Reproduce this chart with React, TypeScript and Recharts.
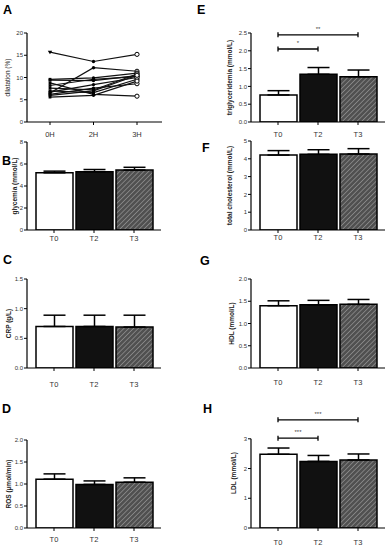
import React from 'react';
import { BarChart, Bar, Cell, XAxis, YAxis, ErrorBar, LineChart, Line, ReferenceLine } from 'recharts';

// panel A: flow-mediated dilatation per subject at 0H / 2H / 3H
const timePoints = ['0H', '2H', '3H'];
const dilatation = [
  [15.7, 13.6, 15.2],
  [6.5, 12.2, 11.4],
  [9.6, 9.9, 11.0],
  [9.4, 9.3, 10.4],
  [8.8, 6.2, 5.8],
  [8.2, 9.6, 10.2],
  [7.6, 7.2, 10.8],
  [7.0, 6.6, 9.6],
  [6.7, 8.4, 10.0],
  [6.2, 7.6, 8.6],
  [5.6, 6.0, 9.2],
  [6.0, 7.0, 10.5],
];

// panels B-H: mean and upper SEM at T0 / T2 / T3
const groups = ['T0', 'T2', 'T3'];
const glycemiaMean = [5.2, 5.3, 5.45];
const glycemiaErr = [0.15, 0.2, 0.25];
const crpMean = [0.7, 0.7, 0.69];
const crpErr = [0.19, 0.19, 0.2];
const rosMean = [1.11, 0.99, 1.04];
const rosErr = [0.12, 0.08, 0.1];
const trigMean = [0.76, 1.34, 1.27];
const trigErr = [0.12, 0.19, 0.19];
const cholMean = [4.21, 4.25, 4.27];
const cholErr = [0.25, 0.26, 0.3];
const hdlMean = [1.4, 1.42, 1.43];
const hdlErr = [0.11, 0.1, 0.11];
const ldlMean = [2.48, 2.24, 2.29];
const ldlErr = [0.21, 0.2, 0.2];

const trigBrackets = [
  { from: 'T0', to: 'T2', y: 2.05, label: '*' },
  { from: 'T0', to: 'T3', y: 2.45, label: '**' },
];
const ldlBrackets = [
  { from: 'T0', to: 'T2', y: 3.02, label: '***' },
  { from: 'T0', to: 'T3', y: 3.64, label: '***' },
];

const FONT = '"Liberation Sans", Arial, sans-serif';

const lineData = timePoints.map((t, i) => {
  const row: any = { time: t };
  dilatation.forEach((s, k) => { row['s' + k] = s[i]; });
  return row;
});

const makeDot = (series: number) => (p: any) => {
  const { cx, cy, index } = p;
  const key = `d-${series}-${index}`;
  if (cx == null || cy == null) return <g key={key} />;
  if (index === 0) {
    if (series === 0) {
      return <path key={key} d={`M${cx - 2.2},${cy - 1.5} L${cx + 2.2},${cy - 1.5} L${cx},${cy + 2.2} Z`} fill="#000" />;
    }
    return <rect key={key} x={cx - 1.4} y={cy - 1.4} width={2.8} height={2.8} fill="#000" />;
  }
  if (index === 1) return <circle key={key} cx={cx} cy={cy} r={1.7} fill="#000" />;
  return <circle key={key} cx={cx} cy={cy} r={2.1} fill="#fff" stroke="#000" strokeWidth={1} />;
};

const Bracket = (label: string) => (p: any) => {
  const { x1, y1, x2 } = p;
  if (x1 == null) return <g />;
  return (
    <g>
      <line x1={x1} y1={y1} x2={x2} y2={y1} stroke="#000" strokeWidth={1.3} />
      <line x1={x1} y1={y1 - 2.5} x2={x1} y2={y1 + 2.5} stroke="#000" strokeWidth={1.3} />
      <line x1={x2} y1={y1 - 2.5} x2={x2} y2={y1 + 2.5} stroke="#000" strokeWidth={1.3} />
      <text x={(x1 + x2) / 2} y={y1 - 4} textAnchor="middle" fontSize={6} fill="#444">{label}</text>
    </g>
  );
};

type PanelProps = {
  id: string;
  left: number;
  top: number;
  yAxisW: number;
  chartW: number;
  plotH: number;
  mean: number[];
  err: number[];
  domain: number[];
  ticks: number[];
  decimals: number;
  yLabel: string;
  labelX: number;
  tickMargin: number;
  brackets?: { from: string; to: string; y: number; label: string }[];
  axisTop?: number;
};

const fills = ['#ffffff', '#111111', 'hatch'];

function BarPanel(props: PanelProps) {
  const { id, left, top, yAxisW, chartW, plotH, mean, err, domain, ticks, decimals, yLabel, labelX, tickMargin, brackets, axisTop } = props;
  const data = groups.map((g, i) => ({ group: g, mean: mean[i], err: [0, err[i]] }));
  const mTop = 10;
  const xH = 22;
  const rightM = chartW - yAxisW - 134;
  return (
    <div style={{ position: 'absolute', left, top }}>
      <BarChart width={chartW} height={mTop + plotH + xH} data={data} margin={{ top: mTop, right: rightM, left: 0, bottom: 0 }}>
        <defs>
          <pattern id={`hatch-${id}`} patternUnits="userSpaceOnUse" width={3.4} height={3.4} patternTransform="rotate(45)">
            <rect width={3.4} height={3.4} fill="#505050" />
            <line x1={0} y1={0} x2={0} y2={3.4} stroke="#9a9a9a" strokeWidth={1.3} />
          </pattern>
        </defs>
        <XAxis
          dataKey="group"
          padding={{ left: 7, right: 7 }}
          height={xH}
          interval={0}
          tickSize={3}
          tickMargin={tickMargin}
          axisLine={{ stroke: '#000', strokeWidth: 1.2 }}
          tickLine={{ stroke: '#000', strokeWidth: 1 }}
          tick={{ fontSize: 7.5, fill: '#333' }}
        />
        <XAxis xAxisId="frame" type="number" domain={[0, 1]} hide />
        <YAxis
          width={yAxisW}
          domain={domain}
          ticks={ticks}
          interval={0}
          tickSize={3}
          tickMargin={1}
          axisLine={axisTop == null ? { stroke: '#000', strokeWidth: 1.2 } : false}
          tickLine={{ stroke: '#000', strokeWidth: 1 }}
          tick={{ fontSize: 6, fill: '#333' }}
          tickFormatter={(v: number) => v.toFixed(decimals)}
          allowDataOverflow
          label={{
            value: yLabel,
            angle: -90,
            position: 'insideLeft',
            offset: labelX,
            style: { textAnchor: 'middle', fontSize: 6.5, fontWeight: 700, fill: '#222' },
          }}
        />
        {axisTop != null && (
          <ReferenceLine
            xAxisId="frame"
            segment={[{ x: 0, y: 0 }, { x: 0, y: axisTop }]}
            stroke="#000"
            strokeWidth={1.2}
          />
        )}
        <Bar dataKey="mean" barSize={37} stroke="#000" strokeWidth={1.5} isAnimationActive={false}>
          {data.map((d, i) => (
            <Cell key={d.group} fill={fills[i] === 'hatch' ? `url(#hatch-${id})` : fills[i]} />
          ))}
          <ErrorBar dataKey="err" direction="y" width={11} stroke="#000" strokeWidth={1.5} />
        </Bar>
        {(brackets || []).map((b, i) => (
          <ReferenceLine
            key={i}
            segment={[{ x: b.from, y: b.y }, { x: b.to, y: b.y }]}
            shape={Bracket(b.label)}
          />
        ))}
      </BarChart>
    </div>
  );
}

const letters = [
  { t: 'A', x: 3, y: 14 },
  { t: 'B', x: 2, y: 165 },
  { t: 'C', x: 3, y: 264 },
  { t: 'D', x: 2, y: 413 },
  { t: 'E', x: 197, y: 14 },
  { t: 'F', x: 202, y: 152 },
  { t: 'G', x: 200, y: 265 },
  { t: 'H', x: 203, y: 413 },
];

export default function App() {
  return (
    <div style={{ position: 'absolute', left: 0, top: 0, width: 389, height: 550, background: '#fff', fontFamily: FONT, overflow: 'hidden' }}>
      <div style={{ position: 'absolute', left: 0, top: 23 }}>
        <LineChart width={170} height={121} data={lineData} margin={{ top: 10, right: 8, left: 0, bottom: 0 }}>
          <XAxis
            dataKey="time"
            padding={{ left: 23, right: 25 }}
            height={22}
            interval={0}
            tickSize={3}
            tickMargin={7}
            axisLine={{ stroke: '#000', strokeWidth: 1.2 }}
            tickLine={{ stroke: '#000' }}
            tick={{ fontSize: 7.5, fill: '#333' }}
          />
          <YAxis
            width={27}
            domain={[0, 20]}
            ticks={[0, 5, 10, 15, 20]}
            interval={0}
            tickSize={3}
            tickMargin={1}
            axisLine={{ stroke: '#000', strokeWidth: 1.2 }}
            tickLine={{ stroke: '#000' }}
            tick={{ fontSize: 6, fill: '#333' }}
            label={{
              value: 'dilatation (%)',
              angle: -90,
              position: 'insideLeft',
              offset: 8,
              style: { textAnchor: 'middle', fontSize: 6.5, fill: '#222' },
            }}
          />
          {dilatation.map((_, k) => (
            <Line
              key={k}
              dataKey={'s' + k}
              stroke="#111"
              strokeWidth={1.2}
              dot={makeDot(k)}
              activeDot={false}
              isAnimationActive={false}
            />
          ))}
        </LineChart>
      </div>

      <BarPanel id="b" left={0} top={132} yAxisW={27} chartW={170} plotH={88} mean={glycemiaMean} err={glycemiaErr}
        domain={[0, 8]} ticks={[0, 2, 4, 6, 8]} decimals={0} yLabel="glycemia (mmol/L)" labelX={15} tickMargin={2.5} />
      <BarPanel id="c" left={0} top={269} yAxisW={27} chartW={170} plotH={89} mean={crpMean} err={crpErr}
        domain={[0, 1.5]} ticks={[0, 0.5, 1, 1.5]} decimals={1} yLabel="CRP (g/L)" labelX={9} tickMargin={10.5} />
      <BarPanel id="d" left={0} top={430} yAxisW={27} chartW={170} plotH={88} mean={rosMean} err={rosErr}
        domain={[0, 2]} ticks={[0, 0.5, 1, 1.5, 2]} decimals={1} yLabel="ROS (µmol/min)" labelX={9} tickMargin={6} />

      <BarPanel id="e" left={195} top={23} yAxisW={56} chartW={194} plotH={89} mean={trigMean} err={trigErr}
        domain={[0, 2.5]} ticks={[0, 0.5, 1, 1.5, 2, 2.5]} decimals={1} yLabel="triglyceridemia (mmol/L)" labelX={35}
        tickMargin={6.5} brackets={trigBrackets} />
      <BarPanel id="f" left={195} top={131} yAxisW={56} chartW={194} plotH={89} mean={cholMean} err={cholErr}
        domain={[0, 5]} ticks={[0, 1, 2, 3, 4, 5]} decimals={0} yLabel="total cholesterol (mmol/L)" labelX={35} tickMargin={2} />
      <BarPanel id="g" left={195} top={269} yAxisW={56} chartW={194} plotH={89} mean={hdlMean} err={hdlErr}
        domain={[0, 2]} ticks={[0, 0.5, 1, 1.5, 2]} decimals={1} yLabel="HDL (mmol/L)" labelX={37} tickMargin={8.5} />
      <BarPanel id="h" left={195} top={408} yAxisW={56} chartW={194} plotH={110} mean={ldlMean} err={ldlErr}
        domain={[0, 3.7]} ticks={[0, 1, 2, 3]} decimals={0} yLabel="LDL (mmol/L)" labelX={39} tickMargin={8.5}
        brackets={ldlBrackets} axisTop={3} />

      <svg width={389} height={550} style={{ position: 'absolute', left: 0, top: 0, pointerEvents: 'none' }}>
        {letters.map((l) => (
          <text key={l.t} x={l.x} y={l.y} fontSize={12.5} fontWeight={700} fill="#000" fontFamily={FONT}>{l.t}</text>
        ))}
      </svg>
    </div>
  );
}
